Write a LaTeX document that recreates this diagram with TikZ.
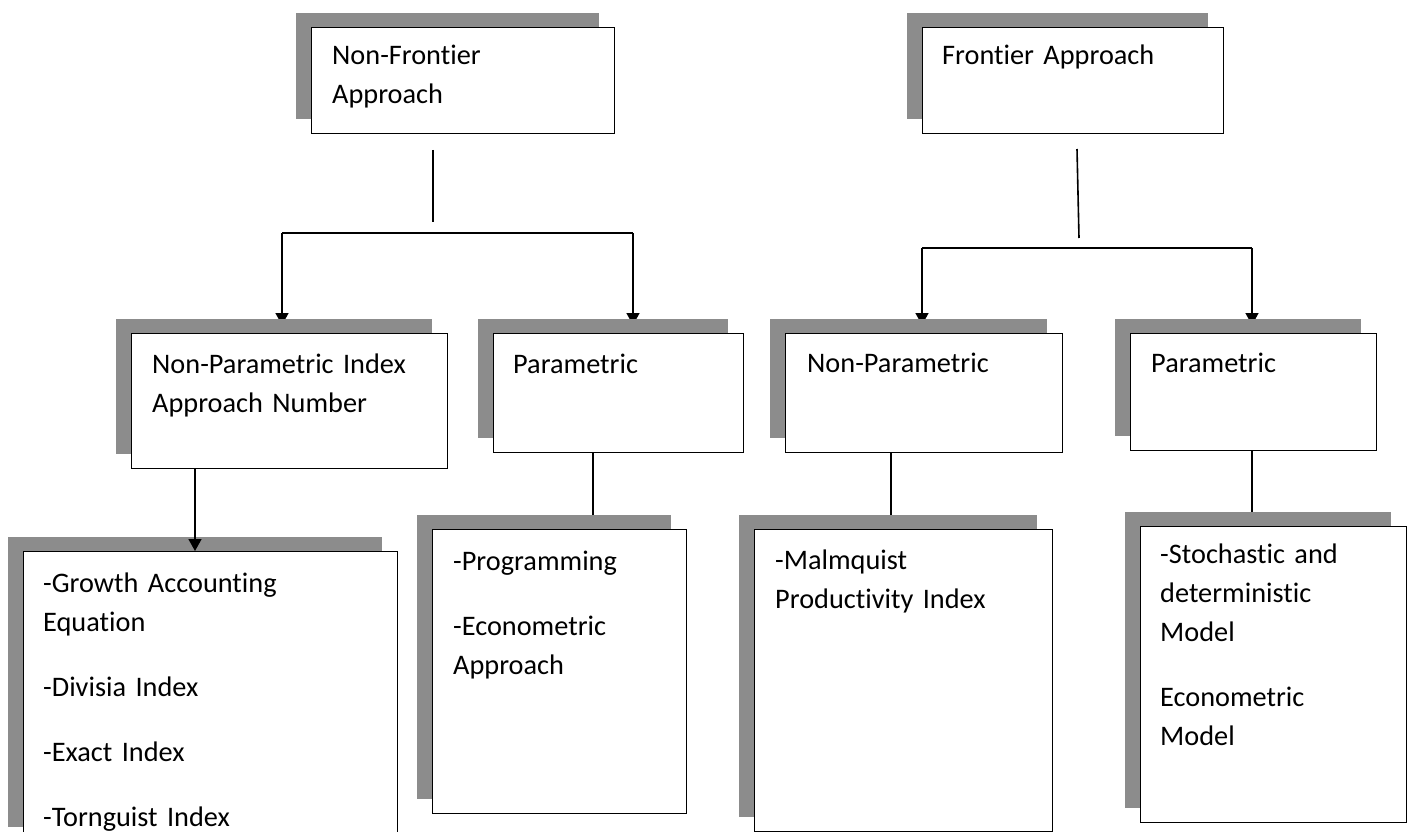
\documentclass[tikz,border=0pt]{standalone}
\usepackage{fontspec}
\setmainfont{Carlito}[Ligatures={NoCommon}]
\usetikzlibrary{arrows.meta,shadows}
\pgfdeclarelayer{background}
\pgfdeclarelayer{canvas}
\pgfsetlayers{canvas,background,main}
\begin{document}
\begin{tikzpicture}[x=1pt,y=-1pt,
  box/.style={draw=black, line width=1.4pt, fill=white, inner sep=0pt, anchor=north west,
    general shadow={fill=black!45, draw=none, shadow xshift=-16pt, shadow yshift=15pt}},
  lbl/.style={anchor=base west, inner sep=0pt, text width=380pt, align=left,
    font=\fontsize{28.3}{39}\selectfont},
  conn/.style={line width=1.6pt},
  arr/.style={conn, -{Triangle[width=13pt,length=12pt]}}]
\begin{pgfonlayer}{canvas}
\fill[white] (0,0) rectangle (1408,832);
\end{pgfonlayer}
\useasboundingbox (0,0) rectangle (1408,832);

% level 1
\node[box, minimum width=303pt, minimum height=106pt] (nf) at (311,27) {};
\node[box, minimum width=301pt, minimum height=106pt] (fa) at (922,27) {};
% level 2
\node[box, minimum width=316pt, minimum height=135pt] (A) at (131,333) {};
\node[box, minimum width=250pt, minimum height=119pt] (B) at (493,333) {};
\node[box, minimum width=277pt, minimum height=119pt] (C) at (785,333) {};
\node[box, minimum width=246pt, minimum height=117pt] (D) at (1130,333) {};
% level 3
\node[box, minimum width=374pt, minimum height=290pt] (A3) at (23,551) {};
\node[box, minimum width=254pt, minimum height=284pt] (B3) at (432,529) {};
\node[box, minimum width=298pt, minimum height=302pt] (C3) at (754,529) {};
\node[box, minimum width=266pt, minimum height=296pt] (D3) at (1140,526) {};

% texts
\node[lbl] (nft) at (332,65) {Non-Frontier\\Approach};
\node[lbl] (fat) at (942,65) {Frontier Approach};
\node[lbl] (At) at (152,373) {Non-Parametric Index\\Approach Number};
\node[lbl] (Bt) at (513,373) {Parametric};
\node[lbl] (Ct) at (807,372) {Non-Parametric};
\node[lbl] (Dt) at (1151,372) {Parametric};
\node[lbl] (A3t) at (43,592) {-Growth Accounting\\Equation\\[26pt]-Divisia Index\\[26pt]-Exact Index\\[26pt]-Tornguist Index};
\node[lbl] (B3t) at (453,570) {-Programming\\[26pt]-Econometric\\Approach};
\node[lbl] (C3t) at (775,569) {-Malmquist\\Productivity Index};
\node[lbl] (D3t) at (1160,563) {-Stochastic and\\deterministic\\Model\\[26pt]Econometric\\Model};

% connector coordinates
\coordinate (t1a) at (433,150); \coordinate (t1b) at (433,222);
\coordinate (h1l) at (282,233); \coordinate (h1r) at (633,233);
\coordinate (t2a) at (1077,149); \coordinate (t2b) at (1079,238);
\coordinate (h2l) at (922,248); \coordinate (h2r) at (1252,248);

\begin{pgfonlayer}{background}
\draw[conn] (t1a) -- (t1b);
\draw[conn] (h1l) -- (h1r);
\draw[arr, shorten >=8pt] (h1l) -- (h1l |- A.north);
\draw[arr, shorten >=8pt] (h1r) -- (h1r |- B.north);
\draw[conn] (t2a) -- (t2b);
\draw[conn] (h2l) -- (h2r);
\draw[arr, shorten >=8pt] (h2l) -- (h2l |- C.north);
\draw[arr, shorten >=8pt] (h2r) -- (h2r |- D.north);
\draw[conn] ([xshift=100pt]B.south west) -- ([xshift=161pt]B3.north west);
\draw[conn] ([xshift=106pt]C.south west) -- ([xshift=137pt]C3.north west);
\draw[conn] ([xshift=122pt]D.south west) -- ([xshift=112pt]D3.north west);
\end{pgfonlayer}
\draw[arr] ([xshift=64pt]A.south west) -- ([xshift=172pt]A3.north west);
\end{tikzpicture}
\end{document}
